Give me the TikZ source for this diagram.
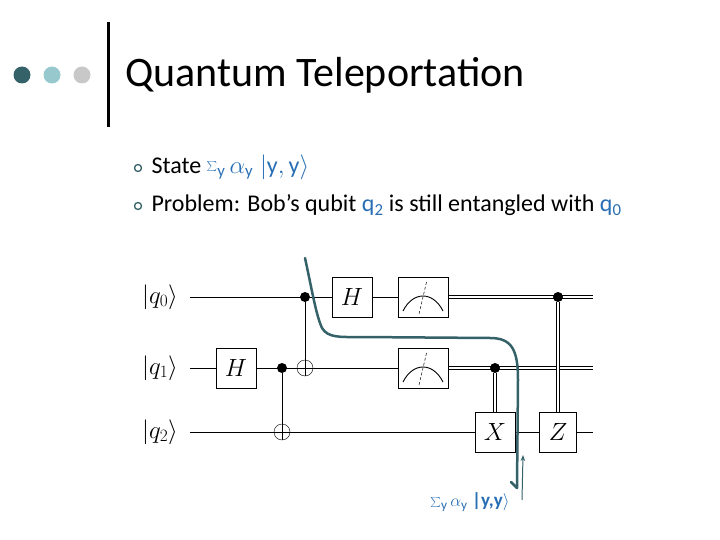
\documentclass[tikz,border=0pt]{standalone}
\usepackage{fontspec}
\setmainfont{Carlito}
\usetikzlibrary{arrows.meta}
\definecolor{teal1}{RGB}{52,98,104}
\definecolor{teal2}{RGB}{150,200,205}
\definecolor{grayc}{RGB}{200,200,200}
\definecolor{qblue}{RGB}{40,110,180}
\begin{document}
\begin{tikzpicture}[x=1pt,y=-1pt,
  gate/.style={draw,fill=white,line width=1pt,minimum width=40pt,minimum height=40pt,inner sep=0pt,font=\fontsize{26}{26}\selectfont},
  meter/.style={draw,fill=white,line width=1pt,minimum width=50pt,minimum height=40pt,inner sep=0pt},
  ctrl/.style={circle,fill=black,inner sep=0pt,minimum size=10pt},
  targ/.style={circle,draw,inner sep=0pt,minimum size=16pt},
  wire/.style={line width=1pt},
  cwire/.style={double,double distance=2.5pt,line width=0.8pt},
  qlab/.style={font=\fontsize{27}{27}\selectfont},
  dot/.style={circle,inner sep=0pt,minimum size=17pt}]
\useasboundingbox (0,0) rectangle (720,540);
% header
\node[dot,fill=teal1] (d1) at (22,75) {};
\node[dot,fill=teal2] (d2) at (52,75) {};
\node[dot,fill=grayc] (d3) at (82,75) {};
\draw[line width=3pt] (108,22) -- (108,127);
\node[anchor=west,font=\fontsize{42}{42}\selectfont] (title) at (122,75) {Quantum Teleportation};
\node[circle,draw=teal1,line width=1.3pt,inner sep=0pt,minimum size=7pt] (b1) at (138,168) {};
\node[circle,draw=teal1,line width=1.3pt,inner sep=0pt,minimum size=7pt] (b2) at (138,206) {};
\node[anchor=west,font=\fontsize{24}{24}\selectfont] (t1) at (148,167) {State \textcolor{qblue}{$\sum_{\mathrm{y}}\alpha_{\mathrm{y}}\;|\mathrm{y},\mathrm{y}\rangle$}};
\node[anchor=west,font=\fontsize{24}{24}\selectfont] (t2) at (148,205) {Problem: Bob’s qubit \textcolor{qblue}{q\textsubscript{2}} is still entangled with \textcolor{qblue}{q\textsubscript{0}}};
% wire labels
\node[qlab] (l0) at (160,297) {$|q_0\rangle$};
\node[qlab] (l1) at (160,368) {$|q_1\rangle$};
\node[qlab] (l2) at (160,432) {$|q_2\rangle$};
\coordinate (s0) at (190,297); \coordinate (s1) at (190,368); \coordinate (s2) at (190,432);
\coordinate (e0) at (593,297); \coordinate (e1) at (593,368); \coordinate (e2) at (593,432);
% quantum wires
\draw[wire] (s0) -- (398,297);
\draw[wire] (s1) -- (398,368);
\draw[wire] (s2) -- (e2);
\draw[cwire] (448,297) -- (e0);
\draw[cwire] (448,368) -- (e1);
% CNOTs
\node[ctrl] (c1) at (282,368) {};
\node[targ] (x1) at (282,432) {};
\draw[wire] (c1) -- (282,440);
\node[ctrl] (c2) at (305,297) {};
\node[targ] (x2) at (305,368) {};
\draw[wire] (c2) -- (305,376);
% gates
\node[gate] (h1) at (236,368) {$H$};
\node[gate] (h0) at (352,297) {$H$};
\node[meter] (m0) at (423,297) {};
\node[meter] (m1) at (423,368) {};
\foreach \m in {m0,m1}{
  \draw[line width=0.9pt] ([shift={(-20,14)}]\m.center) .. controls ([shift={(-10,-6)}]\m.center) and ([shift={(10,-6)}]\m.center) .. ([shift={(20,14)}]\m.center);
  \draw[densely dashed,line width=0.5pt] ([shift={(-4,17)}]\m.center) -- ([shift={(4,-17)}]\m.center);
}
\node[gate] (gx) at (495,432) {$X$};
\node[gate,minimum width=37pt,minimum height=40pt] (gz) at (558,432) {$Z$};
\node[ctrl] (c3) at (495,368) {};
\node[ctrl] (c4) at (558,297) {};
\draw[cwire] (c3) -- (gx.north);
\draw[cwire] (c4) -- (gz.north);
% teal curve
\draw[teal1,line width=2.5pt,line cap=round,line join=round]
  (305,258) .. controls (312,290) and (316,315) .. (322,328)
  .. controls (328,338) and (340,337) .. (360,337)
  -- (490,338) .. controls (512,338) and (518,350) .. (518,380)
  -- (517,488) -- (511,482);
\draw[teal1,line width=1pt,-{Stealth[length=6pt]}] (522,500) -- (523,455);
\node[text=qblue,font=\fontsize{19}{19}\selectfont] (lab) at (470,502) {$\sum_{\mathrm{y}}\alpha_{\mathrm{y}}$ \textbf{|y,y}$\rangle$};
\end{tikzpicture}
\end{document}
